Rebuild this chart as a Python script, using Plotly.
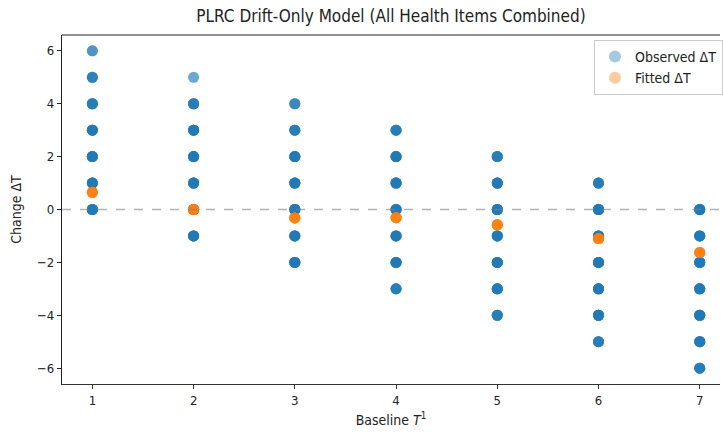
import plotly.graph_objects as go

# ---- data ----
baseline_levels = [1, 2, 3, 4, 5, 6, 7]
# observed change values at each baseline level (with estimated overlap counts)
obs_changes = {
    1: [6, 5, 4, 3, 2, 1, 0],
    2: [5, 4, 3, 2, 1, 0, -1],
    3: [4, 3, 2, 1, 0, -1, -2],
    4: [3, 2, 1, 0, -1, -2, -3],
    5: [2, 1, 0, -1, -2, -3, -4],
    6: [1, 0, -1, -2, -3, -4, -5],
    7: [0, -1, -2, -3, -4, -5, -6],
}
obs_counts = {
    1: [3, 5, 6, 8, 8, 8, 8],
    2: [2, 6, 8, 8, 8, 8, 8],
    3: [4, 6, 8, 8, 8, 8, 8],
    4: [6, 8, 8, 8, 8, 8, 6],
    5: [6, 8, 8, 8, 8, 8, 6],
    6: [6, 8, 8, 8, 8, 8, 6],
    7: [8, 8, 8, 8, 8, 8, 6],
}
fitted_change = [0.65, 0.0, -0.32, -0.31, -0.58, -1.1, -1.63]
fitted_repeat = 8

x_ticks = [1, 2, 3, 4, 5, 6, 7]
y_ticks = [-6, -4, -2, 0, 2, 4, 6]

# expand observations with overlap counts
ox, oy = [], []
for b in baseline_levels:
    for v, c in zip(obs_changes[b], obs_counts[b]):
        ox += [b] * c
        oy += [v] * c
fx, fy = [], []
for b, f in zip(baseline_levels, fitted_change):
    fx += [b] * fitted_repeat
    fy += [f] * fitted_repeat

FONT = "DejaVu Sans Condensed, DejaVu Sans, sans-serif"

fig = go.Figure()
fig.add_trace(go.Scatter(
    x=ox, y=oy, mode="markers", name="Observed ΔT",
    marker=dict(color="#1f77b4", size=11, opacity=0.4, line=dict(width=0)),
))
fig.add_trace(go.Scatter(
    x=fx, y=fy, mode="markers", name="Fitted ΔT",
    marker=dict(color="#ff7f0e", size=11, opacity=0.4, line=dict(width=0)),
))

# horizontal zero reference line
fig.add_hline(y=0, line=dict(color="rgba(128,128,128,0.6)", width=1.6, dash="dash"))
# top spine
fig.add_shape(type="line", xref="paper", yref="paper", x0=0, x1=1, y0=1, y1=1,
              line=dict(color="#222", width=1.2))

fig.update_layout(
    width=723, height=439,
    margin=dict(l=62, r=0, t=35, b=55),
    plot_bgcolor="white", paper_bgcolor="white",
    font=dict(family=FONT, size=13, color="#222"),
    title=dict(text="PLRC Drift-Only Model (All Health Items Combined)",
               x=0.5, xref="paper", xanchor="center", y=1 - 16 / 439, yref="container",
               yanchor="middle", font=dict(size=17, family=FONT, color="#222")),
    showlegend=True,
    legend=dict(x=0.809, y=0.986, xanchor="left", yanchor="top",
                bordercolor="#cccccc", borderwidth=1, bgcolor="rgba(255,255,255,0.8)",
                font=dict(size=14, family=FONT, color="#222"), itemsizing="constant",
                tracegroupgap=2),
)
fig.update_xaxes(range=[0.7, 7.2], tickvals=x_ticks, showgrid=False, zeroline=False,
                 showline=True, linecolor="#333", linewidth=1.2,
                 ticks="outside", ticklen=4, tickcolor="#333",
                 tickfont=dict(size=13, family=FONT),
                 title=dict(text="Baseline <i>T</i><sup>1</sup>", font=dict(size=14, family=FONT),
                            standoff=8))
fig.update_yaxes(range=[-6.6, 6.6], tickvals=y_ticks, showgrid=False, zeroline=False,
                 showline=True, linecolor="#222", linewidth=1.2,
                 ticks="outside", ticklen=4, tickcolor="#222",
                 tickfont=dict(size=13, family=FONT),
                 title=dict(text="Change ΔT", font=dict(size=14, family=FONT), standoff=12))

fig.write_html("out.html")
